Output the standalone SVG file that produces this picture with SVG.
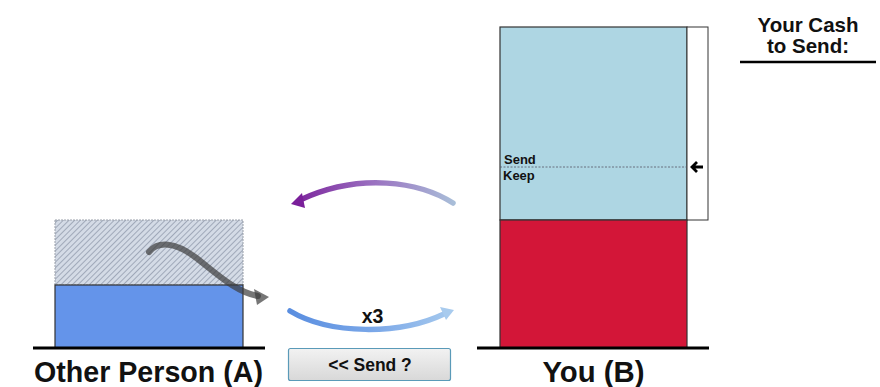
<svg xmlns="http://www.w3.org/2000/svg" width="880" height="387" viewBox="0 0 880 387">
<defs>
<style>
.lbl{font-family:"Liberation Sans",Arial,sans-serif;font-weight:bold;fill:#111;}
.base{stroke:#000;stroke-width:3;}
.box{stroke:#333;stroke-width:1.2;}
</style>
<pattern id="hatch" patternUnits="userSpaceOnUse" width="4" height="4" patternTransform="rotate(45)">
<rect width="4" height="4" fill="#d4dbe6"/>
<line x1="0" y1="0" x2="0" y2="4" stroke="#8a93a6" stroke-width="1.4"/>
</pattern>
<linearGradient id="gPurple" x1="455" y1="0" x2="290" y2="0" gradientUnits="userSpaceOnUse">
<stop offset="0" stop-color="#a9bfd9"/>
<stop offset="0.5" stop-color="#9a70c0"/>
<stop offset="1" stop-color="#7a1f9a"/>
</linearGradient>
<linearGradient id="gBlue" x1="290" y1="0" x2="455" y2="0" gradientUnits="userSpaceOnUse">
<stop offset="0" stop-color="#5a8ee0"/>
<stop offset="0.5" stop-color="#7aa7e8"/>
<stop offset="1" stop-color="#a8cbee"/>
</linearGradient>
<linearGradient id="gBtn" x1="0" y1="0" x2="0" y2="1">
<stop offset="0" stop-color="#f2f2f2"/>
<stop offset="1" stop-color="#d8d8d8"/>
</linearGradient>
</defs>

<g id="personA">
<rect x="55" y="220" width="188" height="65" fill="url(#hatch)" stroke="#9aa0aa" stroke-width="1" stroke-dasharray="2,1"/>
<rect class="box" x="55" y="285" width="188" height="63" fill="#6494ea"/>
<line class="base" x1="33" y1="348" x2="265" y2="348"/>
<text class="lbl" x="148.5" y="382" font-size="29" text-anchor="middle" textLength="229" lengthAdjust="spacingAndGlyphs">Other Person (A)</text>
</g>

<g id="personB">
<rect class="box" x="500" y="27" width="187" height="193" fill="#aed6e3"/>
<rect x="687" y="27" width="21" height="193" fill="#fff" stroke="#333" stroke-width="1"/>
<rect class="box" x="500" y="220" width="187" height="128" fill="#d31638"/>
<line x1="500" y1="167" x2="687" y2="167" stroke="#556" stroke-width="0.8" stroke-dasharray="2,1.5"/>
<text class="lbl" x="504" y="164" font-size="13">Send</text>
<text class="lbl" x="503" y="180" font-size="13">Keep</text>
<path d="M703 167 H692 M697 162 L692 167 L697 172" fill="none" stroke="#000" stroke-width="2.8"/>
<line class="base" x1="477" y1="348" x2="709" y2="348"/>
<text class="lbl" x="593.5" y="382" font-size="29" text-anchor="middle" textLength="102" lengthAdjust="spacingAndGlyphs">You (B)</text>
</g>

<g id="cash">
<text class="lbl" x="808" y="32" font-size="20.5" text-anchor="middle">Your Cash</text>
<text class="lbl" x="808" y="53" font-size="20.5" text-anchor="middle">to Send:</text>
<line x1="740" y1="62" x2="876" y2="62" stroke="#000" stroke-width="2.5"/>
</g>

<g id="button">
<rect x="288.5" y="348.5" width="162" height="32" fill="url(#gBtn)" stroke="#5a9ab8" stroke-width="1.2" rx="2"/>
<text class="lbl" x="370" y="371" font-size="17.5" text-anchor="middle">&lt;&lt; Send ?</text>
</g>

<g id="connectors">
<path d="M453 203 C420 182 360 172 300 200" fill="none" stroke="url(#gPurple)" stroke-width="5.5" stroke-linecap="round"/>
<path d="M291 204 L302 193 L305 208 Z" fill="#7a1f9a"/>
<path d="M290 311 C330 335 400 335 444 314" fill="none" stroke="url(#gBlue)" stroke-width="5.5" stroke-linecap="round"/>
<path d="M454 310 L440 307 L446 320 Z" fill="#a8cbee"/>
<text class="lbl" x="372.5" y="323" font-size="19.5" text-anchor="middle">x3</text>
<path d="M149 252 C158 241 175 242 195 257 C215 272 235 292 258 296" fill="none" stroke="#3c3c3c" stroke-opacity="0.7" stroke-width="6" stroke-linecap="round"/>
<path d="M269 297 L254 289 L257 305 Z" fill="#3c3c3c" fill-opacity="0.7"/>
</g>
</svg>
